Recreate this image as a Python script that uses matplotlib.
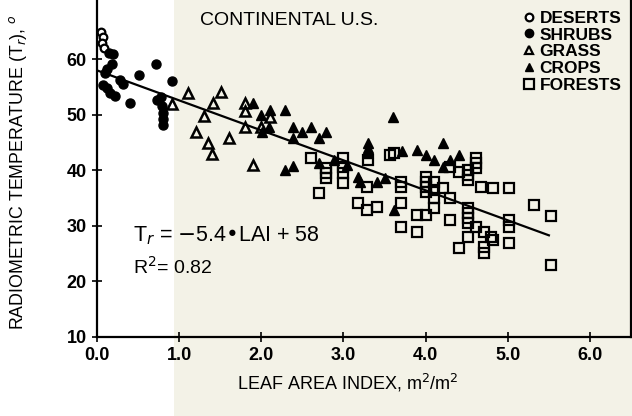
import matplotlib
matplotlib.use('Agg')
import matplotlib.pyplot as plt
from matplotlib.lines import Line2D
from matplotlib.patches import Rectangle
import numpy as np

plt.rcParams['font.family'] = ['Liberation Sans', 'DejaVu Sans']

# values (LAI, radiometric temperature)
desert_x = [0.05, 0.07, 0.06, 0.08]
desert_y = [65.0, 64.0, 63.0, 62.0]

shrub_x = [0.14, 0.20, 0.18, 0.12, 0.10, 0.07, 0.12, 0.16, 0.22, 0.28, 0.32,
           0.40, 0.51, 0.72, 0.91, 0.73, 0.78, 0.79, 0.80, 0.80, 0.80]
shrub_y = [61.2, 61.0, 59.2, 58.3, 57.5, 55.4, 54.8, 54.0, 53.4, 56.3, 55.5,
           52.2, 57.2, 59.2, 56.1, 52.7, 53.2, 51.5, 50.4, 49.2, 48.2]

grass_x = [0.91, 1.11, 1.51, 1.41, 1.30, 1.21, 1.35, 1.40, 1.61, 1.80, 1.80,
           1.80, 2.10, 2.00, 1.90]
grass_y = [52.0, 54.0, 54.1, 52.2, 49.8, 46.9, 45.0, 43.0, 45.9, 52.2, 50.7,
           47.8, 49.6, 47.8, 41.0]

crop_x = [1.90, 2.00, 2.10, 2.09, 2.01, 2.29, 2.39, 2.50, 2.60, 2.39, 2.70,
          2.79, 2.29, 2.39, 2.70, 2.88, 3.30, 3.30, 3.30, 3.18, 3.20, 3.41,
          3.51, 3.60, 3.71, 3.90, 4.00, 4.10, 4.21, 4.21, 4.30, 4.40, 3.61, 3.04]
crop_y = [52.2, 50.0, 50.9, 47.8, 46.9, 50.9, 47.8, 46.9, 47.8, 45.9, 45.9,
          46.9, 40.1, 40.8, 41.4, 41.9, 45.0, 44.1, 43.2, 38.8, 37.9, 37.9,
          38.6, 49.6, 43.4, 43.7, 42.8, 41.9, 45.0, 40.6, 41.9, 42.8, 32.9, 41.0]

forest_x = [2.60, 2.79, 2.79, 2.79, 2.70, 2.99, 2.99, 2.99, 2.99, 3.30, 3.57,
            3.18, 3.29, 3.41, 3.29, 3.61, 3.70, 3.70, 3.70, 4.00, 4.00, 4.00,
            4.00, 4.10, 4.10, 4.10, 4.10, 4.21, 4.30, 3.90, 4.00, 3.70, 3.90,
            4.30, 4.30, 4.40, 4.51, 4.51, 4.51, 4.61, 4.61, 4.61, 4.51, 4.51,
            4.51, 4.51, 4.61, 4.40, 4.51, 4.71, 4.71, 4.71, 4.80, 4.82, 5.01,
            5.32, 5.52, 5.01, 5.01, 5.01, 4.82, 4.67, 5.52]
forest_y = [42.3, 40.5, 39.5, 38.6, 35.9, 42.3, 40.6, 39.5, 37.7, 41.9, 42.8,
            34.1, 32.9, 33.4, 37.0, 43.2, 37.9, 37.0, 34.1, 38.8, 37.9, 37.0,
            36.1, 37.9, 36.5, 35.0, 33.2, 36.8, 35.0, 32.0, 32.0, 29.8, 28.9,
            31.1, 40.6, 39.7, 40.1, 39.2, 38.3, 42.3, 41.4, 40.5, 33.2, 32.3,
            31.4, 30.5, 29.8, 26.0, 28.0, 28.9, 26.2, 25.1, 28.0, 36.8, 36.8,
            33.8, 31.8, 31.1, 29.8, 26.9, 27.5, 37.0, 23.0]

slope = -5.4
intercept = 58
fit_x = [0.0, 5.5]

x_ticks = [0, 1, 2, 3, 4, 5, 6]
y_ticks = [10, 20, 30, 40, 50, 60]

fig = plt.figure(figsize=(6.32, 4.16), dpi=100)
# scanned page: white strip on the left, cream paper elsewhere
fig.patches.append(Rectangle((0.275, 0), 0.725, 1, transform=fig.transFigure,
                             facecolor='#f3f2e7', edgecolor='none', zorder=-10))
ax = fig.add_axes([0.1535, 0.19, 0.845, 0.8077])
ax.set_facecolor('none')

ax.plot(desert_x, desert_y, 'o', mfc='white', mec='black', mew=1.6, ms=5.5)
ax.plot(shrub_x, shrub_y, 'o', color='black', ms=6.5)
ax.plot(grass_x, grass_y, '^', mfc='none', mec='black', mew=1.8, ms=7)
ax.plot(crop_x, crop_y, '^', color='black', ms=6.5)
ax.plot(forest_x, forest_y, 's', mfc='none', mec='black', mew=1.6, ms=7.5)

fx = np.array(fit_x)
ax.plot(fx, slope * fx + intercept, color='black', lw=1.6)

ax.set_xlim(0, 6.5)
ax.set_ylim(10, 70.5)
ax.set_xticks(x_ticks)
ax.set_xticklabels(['%.1f' % v for v in x_ticks])
ax.set_yticks(y_ticks)
ax.tick_params(direction='inout', length=7, width=1.2, labelsize=13, pad=4)
for lab in ax.get_xticklabels() + ax.get_yticklabels():
    lab.set_fontweight('bold')
ax.spines['top'].set_visible(False)
for s in ['left', 'bottom', 'right']:
    ax.spines[s].set_linewidth(1.6)

ax.set_xlabel('LEAF AREA INDEX, m$^2$/m$^2$', fontsize=13)
ax.xaxis.set_label_coords(0.47, -0.105)
ax.set_ylabel('RADIOMETRIC TEMPERATURE (T$_r$), $^o$', fontsize=12.8)
ax.yaxis.set_label_coords(-0.128, 0.49)

ax.text(0.193, 0.943, 'CONTINENTAL U.S.', transform=ax.transAxes,
        fontsize=14, va='center', ha='left')
ax.text(0.068, 0.30, 'T$_r$ = $-$5.4\u2022LAI + 58', transform=ax.transAxes,
        fontsize=15.5, va='center')
ax.text(0.068, 0.21, 'R$^2$= 0.82', transform=ax.transAxes,
        fontsize=14, va='center')

handles = [
    Line2D([], [], ls='', marker='o', mfc='white', mec='black', mew=1.6, ms=5.5),
    Line2D([], [], ls='', marker='o', color='black', ms=6),
    Line2D([], [], ls='', marker='^', mfc='none', mec='black', mew=1.6, ms=6),
    Line2D([], [], ls='', marker='^', color='black', ms=6),
    Line2D([], [], ls='', marker='s', mfc='none', mec='black', mew=1.6, ms=6.5),
]
labels = ['DESERTS', 'SHRUBS', 'GRASS', 'CROPS', 'FORESTS']
leg = ax.legend(handles, labels, loc='upper right', bbox_to_anchor=(1.0, 1.0),
                frameon=False, handlelength=0.6, handletextpad=0.3,
                labelspacing=0.1, borderpad=0.2, borderaxespad=0.35,
                prop={'weight': 'bold', 'size': 12.5})

fig.savefig('out.png', dpi=100)
